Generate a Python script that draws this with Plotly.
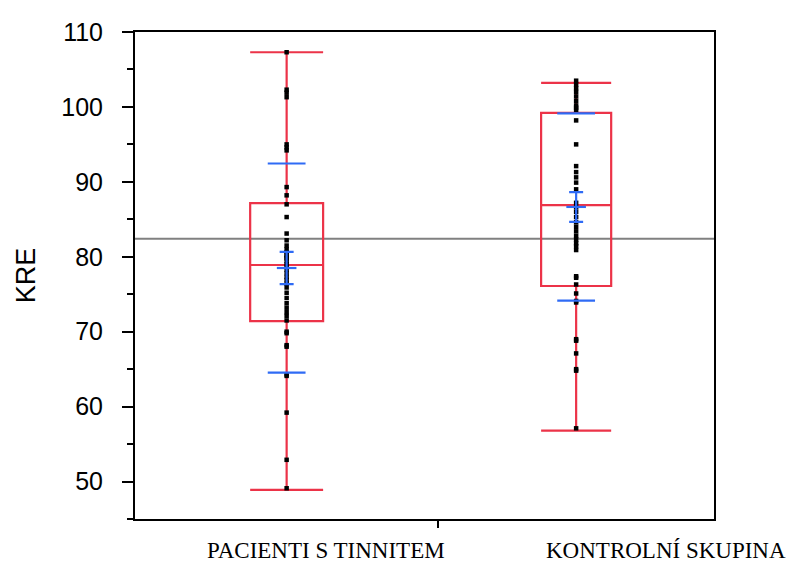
import plotly.graph_objects as go

# Group names
groups = ["PACIENTI S TINNITEM", "KONTROLNÍ SKUPINA"]

# Individual KRE observations per group
kre_tinnitus = [107.3, 102.3, 101.9, 101.3, 95.0, 94.6, 94.2, 89.3, 88.2, 87.0,
                85.3, 83.1, 82.2, 81.5, 81.0, 80.6, 80.2, 80.0, 79.8, 79.4,
                79.0, 78.7, 78.3, 77.8, 77.3, 76.9, 76.4, 75.9, 75.2, 74.5,
                73.8, 73.2, 72.6, 72.1, 71.5, 70.0, 69.8, 68.2, 68.0, 64.3,
                64.1, 59.2, 52.9, 49.1]
kre_control = [103.5, 103.0, 102.5, 102.0, 101.4, 100.8, 100.2, 99.9, 99.6, 98.2,
               95.0, 92.1, 91.3, 90.6, 89.9, 89.0, 87.2, 86.6, 86.0, 85.3,
               84.6, 84.0, 83.4, 82.8, 82.3, 81.8, 81.4, 80.9, 77.4, 77.2,
               76.3, 75.1, 74.1, 73.9, 69.0, 68.8, 67.1, 65.0, 64.8, 57.1]

# Quantile box summaries
q1 = [71.4, 76.1]
median = [78.9, 86.9]
q3 = [87.15, 99.2]
lower_fence = [48.9, 56.8]
upper_fence = [107.3, 103.2]

# Means, standard deviations and standard errors
means = [78.5, 86.65]
sds = [13.95, 12.5]
ses = [2.15, 1.98]
grand_mean = 82.4

RED = "#EC3348"
BLUE = "#2F6BF5"

# Group positions along x are proportional to group sizes
n = [len(kre_tinnitus), len(kre_control)]
total = sum(n)
boundary = n[0] / total
centers = [n[0] / 2 / total, (n[0] + n[1] / 2) / total]
box_widths = [0.126, 0.121]

fig = go.Figure()

# Grand mean reference line
fig.add_hline(y=grand_mean, line=dict(color="#808080", width=2), layer="below")

for i, vals in enumerate([kre_tinnitus, kre_control]):
    fig.add_trace(go.Box(
        x=[centers[i]], q1=[q1[i]], median=[median[i]], q3=[q3[i]],
        lowerfence=[lower_fence[i]], upperfence=[upper_fence[i]],
        width=box_widths[i], whiskerwidth=1, boxpoints=False,
        line=dict(color=RED, width=2.2), fillcolor="rgba(0,0,0,0)",
        showlegend=False, hoverinfo="skip",
    ))
    fig.add_trace(go.Scatter(
        x=[centers[i]] * len(vals), y=vals, mode="markers",
        marker=dict(symbol="square", size=4.5, color="black"),
        showlegend=False,
    ))
    # mean +/- SD ticks
    fig.add_trace(go.Scatter(
        x=[centers[i]] * 2, y=[means[i] - sds[i], means[i] + sds[i]],
        mode="markers",
        marker=dict(symbol="line-ew", size=27, line=dict(color=BLUE, width=2.2)),
        showlegend=False,
    ))
    # mean with standard-error bar
    fig.add_trace(go.Scatter(
        x=[centers[i]], y=[means[i]], mode="markers",
        marker=dict(symbol="line-ew", size=14, line=dict(color=BLUE, width=2.2)),
        error_y=dict(type="data", array=[ses[i]], color=BLUE, thickness=2.2, width=7),
        showlegend=False,
    ))

label_x = [0.33, 0.917]
for lx, name in zip(label_x, groups):
    fig.add_annotation(
        x=lx, y=0, xref="paper", yref="paper", yshift=-31,
        text=name, showarrow=False, xanchor="center", yanchor="middle",
        font=dict(family="Liberation Serif, Times New Roman, serif", size=23, color="black"),
    )

fig.update_layout(
    width=794, height=563,
    margin=dict(l=135, r=80, t=32, b=44),
    paper_bgcolor="white", plot_bgcolor="white",
    font=dict(family="Liberation Sans, Arial, sans-serif", color="black"),
    xaxis=dict(
        range=[0, 1], showgrid=False, zeroline=False,
        tickvals=[boundary], ticktext=[""], ticks="outside", ticklen=7,
        tickwidth=1.5, tickcolor="black",
        showline=True, linecolor="black", linewidth=2, mirror=True,
    ),
    yaxis=dict(
        range=[45, 110], showgrid=False, zeroline=False,
        tickvals=[50, 60, 70, 80, 90, 100, 110],
        ticks="outside", ticklen=11, tickwidth=1.5, tickcolor="black",
        minor=dict(dtick=5, tick0=0, ticks="outside", ticklen=6, tickwidth=1.5, tickcolor="black"),
        tickfont=dict(size=25), ticklabelstandoff=14,
        showline=True, linecolor="black", linewidth=2, mirror=True,
        title=dict(text="KRE", font=dict(size=27), standoff=18),
    ),
)

fig.write_html("out.html")
